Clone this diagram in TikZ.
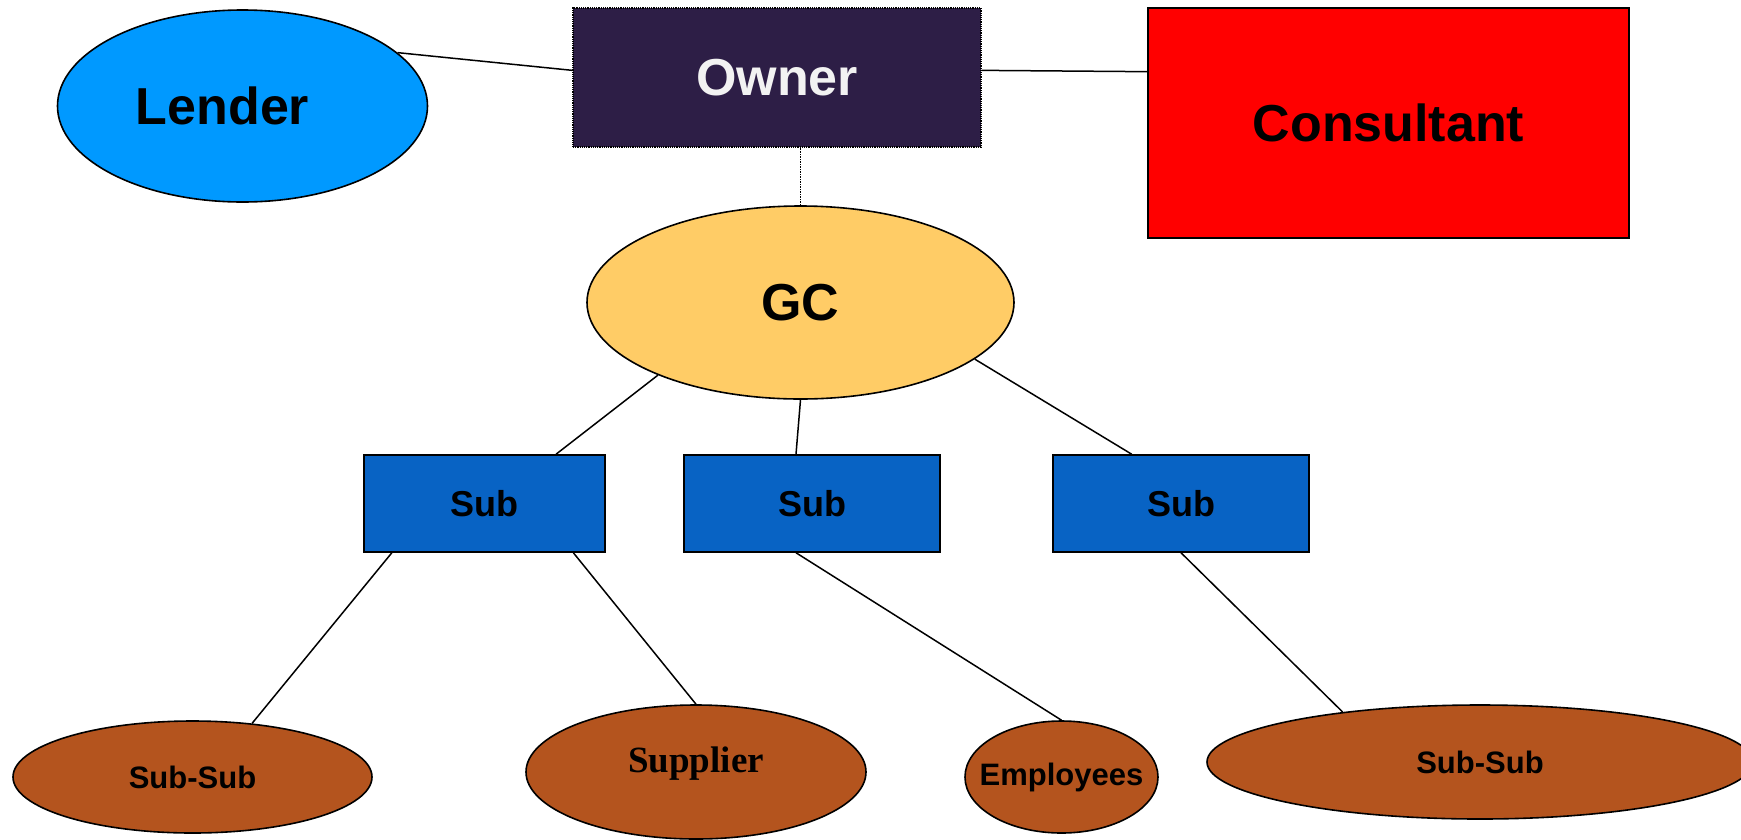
\documentclass[tikz,border=0pt]{standalone}
\usepackage{xcolor}
\usepackage{fontspec}
\setmainfont{Liberation Sans}
\newfontfamily\timesfont{Liberation Serif}
\usepackage{tikz}
\usetikzlibrary{shapes.geometric}
\definecolor{LenderBlue}{HTML}{0099FF}
\definecolor{OwnerPurple}{HTML}{2D1E46}
\definecolor{ConsultRed}{HTML}{FF0000}
\definecolor{GCYellow}{HTML}{FFCC66}
\definecolor{SubBlue}{HTML}{0863C4}
\definecolor{TradeBrown}{HTML}{B4541E}
\tikzset{
  bankshape/.style={ellipse, draw=black, line width=1.6pt, fill=LenderBlue,
    inner sep=0pt, minimum width=370pt, minimum height=192pt,
    font=\fontsize{52}{60}\selectfont\bfseries},
  ownerbox/.style={rectangle, draw=black, densely dotted, line width=1.2pt, fill=OwnerPurple,
    text=black!5, inner sep=0pt, minimum width=408pt, minimum height=139pt,
    font=\fontsize{52}{60}\selectfont\bfseries},
  advisorbox/.style={rectangle, draw=black, line width=2pt, fill=ConsultRed,
    inner sep=0pt, minimum width=481pt, minimum height=230pt,
    font=\fontsize{52}{60}\selectfont\bfseries},
  gcshape/.style={ellipse, draw=black, line width=1.6pt, fill=GCYellow,
    inner sep=0pt, minimum width=427pt, minimum height=193pt,
    font=\fontsize{52}{60}\selectfont\bfseries},
  subbox/.style={rectangle, draw=black, line width=1.5pt, fill=SubBlue,
    inner sep=0pt, minimum height=97pt,
    font=\fontsize{36}{42}\selectfont\bfseries},
  tradeshape/.style={ellipse, draw=black, line width=1.6pt, fill=TradeBrown,
    inner sep=0pt, font=\fontsize{31}{36}\selectfont\bfseries},
  wire/.style={draw=black, line width=1.5pt},
  ownerwire/.style={wire, densely dotted, line width=1.2pt}
}

\begin{document}
\begin{tikzpicture}[x=1pt, y=-1pt]
  \useasboundingbox (0,0) rectangle (1741,839);
  \node[bankshape, inner xsep=-20pt] (lender) at (242.5,106) {Lender\hspace*{40pt}};
  \node[ownerbox] (owner) at (777,77.5) {Owner};
  \node[advisorbox] (consultant) at (1388.5,123) {Consultant};
  \node[gcshape] (gc) at (800.5,302.5) {GC};
  \node[subbox, minimum width=241pt] (suba) at (484.5,503.5) {Sub};
  \node[subbox, minimum width=256pt] (subb) at (812,503.5) {Sub};
  \node[subbox, minimum width=256pt] (subc) at (1181,503.5) {Sub};
  \node[tradeshape, minimum width=359pt, minimum height=112pt] (subsuba) at (192.5,777) {Sub-Sub};
  \node[tradeshape, minimum width=340pt, minimum height=134pt,
    font=\fontsize{37}{42}\timesfont\bfseries] (supplier) at (696,772) {\raisebox{24pt}{Supplier}};
  \node[tradeshape, minimum width=193pt, minimum height=112pt, inner xsep=-16pt] (employees) at (1061.5,777) {Employees};
  \node[tradeshape, minimum width=546pt, minimum height=114pt] (subsubb) at (1480,762) {Sub-Sub};
  \draw[wire] (lender.19) -- (owner.178);
  \draw[wire] (owner.2) -- (consultant.168);
  \draw[ownerwire] (gc.north) -- (gc.north |- owner.south);
  \draw[wire] (gc.207.5) -- (suba.north -| 556,0);
  \draw[wire] (gc.south) -- (subb.108);
  \draw[wire] (gc.342.7) -- (subc.135);
  \draw[wire] (suba.208.7) -- (subsuba.42);
  \draw[wire] (suba.331.3) -- (supplier.north);
  \draw[wire] (subb.252.8) -- (employees.north);
  \draw[wire] (subc.south) -- (subsubb.160);
\end{tikzpicture}
\end{document}
